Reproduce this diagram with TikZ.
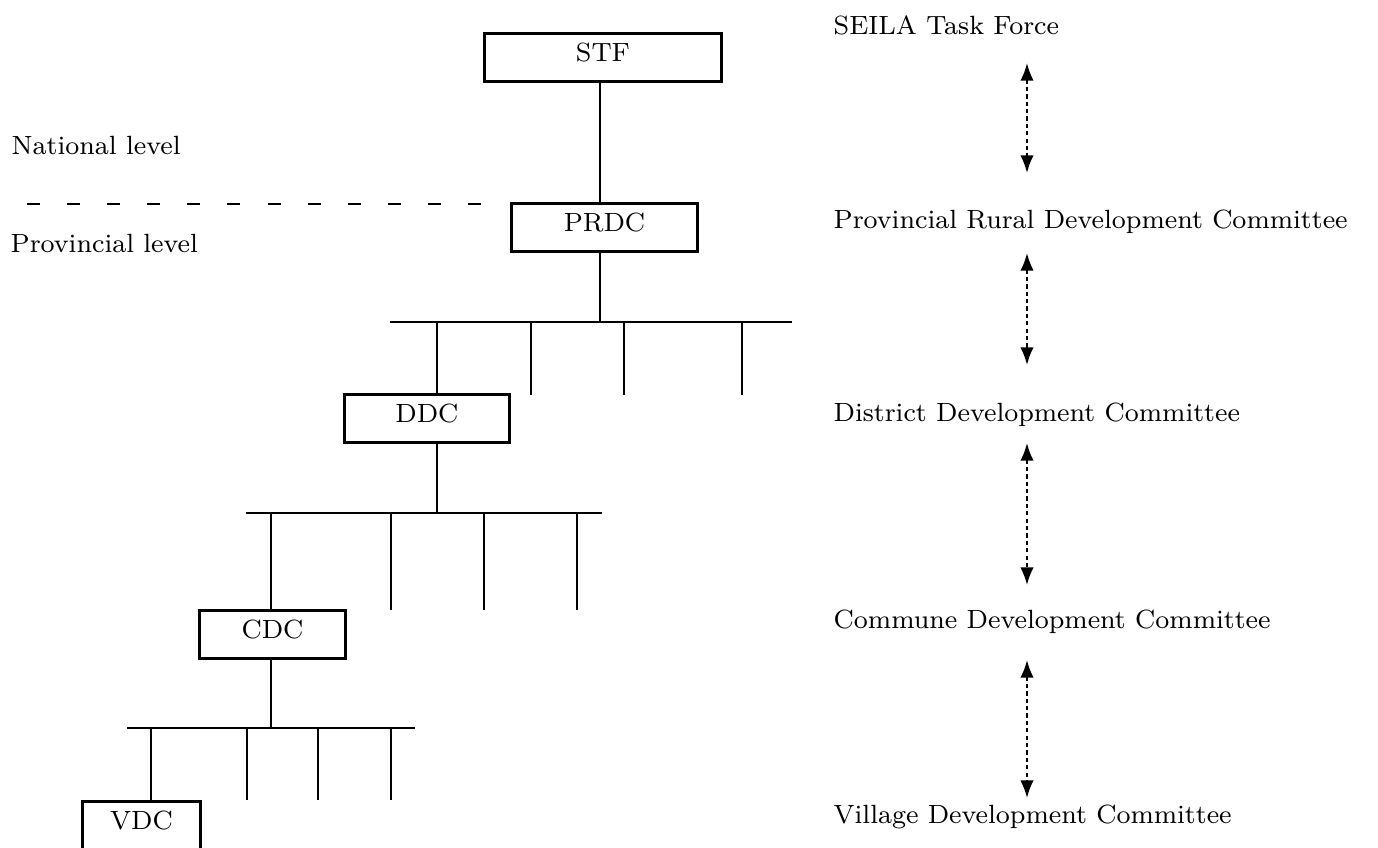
\documentclass[tikz,border=0pt]{standalone}
\usetikzlibrary{arrows.meta}
\tikzset{
    org-box/.style = {draw, rectangle, line width=0.8pt, inner xsep=0pt, inner ysep=0pt, anchor=north west, text height=0.28cm, text depth=0.2cm, font=\fontsize{7.5}{9}\selectfont},
    level-text/.style = {anchor=west, inner sep=0pt, font=\fontsize{7.5}{9}\selectfont},
    org-line/.style = {line width=0.8pt},
    level-divider/.style = {line width=0.8pt, dash pattern=on 3.7pt off 7.7pt},
    level-link/.style = {line width=0.6pt, dash pattern=on 1.2pt off 0.9pt, {Latex[length=5pt,width=3.8pt]}-{Latex[length=5pt,width=3.8pt]}},
}

\begin{document}
\begin{tikzpicture}[x=0.01cm, y=-0.01cm]
\useasboundingbox (0,0) rectangle (1378,847);

% committees
\node[org-box, minimum width=2.37cm] (stf) at (483,32) {STF};
\node[org-box, minimum width=1.86cm] (prdc) at (510,202) {PRDC};
\node[org-box, minimum width=1.65cm] (ddc) at (343,393) {DDC};
\node[org-box, minimum width=1.46cm] (cdc) at (198,609) {CDC};
\node[org-box, minimum width=1.18cm] (vdc) at (81,800) {VDC};

% levels
\node[level-text] (national) at (11,145) {National level};
\node[level-text] (provincial) at (10,243) {Provincial level};
\draw[level-divider] (27,204) -- (483,204);

% tree
\draw[org-line] (stf.south -| 600,0) -- (prdc.north -| 600,0);
\draw[org-line] (prdc.south -| 600,0) -- (600,322);
\draw[org-line] (390,322) -- (792,322);
\draw[org-line] (437,322) -- (ddc.north -| 437,0);
\foreach \x in {531,624,742} \draw[org-line] (\x,322) -- ++(0,73);

\draw[org-line] (ddc.south -| 437,0) -- (437,513);
\draw[org-line] (246,513) -- (602,513);
\draw[org-line] (271,513) -- (cdc.north -| 271,0);
\foreach \x in {391,484,577} \draw[org-line] (\x,513) -- ++(0,97);

\draw[org-line] (cdc.south -| 271,0) -- (271,728);
\draw[org-line] (127,728) -- (415,728);
\draw[org-line] (151,728) -- (vdc.north -| 151,0);
\foreach \x in {247,318,391} \draw[org-line] (\x,728) -- ++(0,72);

% names of the committees
\node[level-text] (seila) at (833,25) {SEILA Task Force};
\node[level-text] (prdc-name) at (833,222) {Provincial Rural Development Committee};
\node[level-text] (ddc-name) at (833,415) {District Development Committee};
\node[level-text] (cdc-name) at (833,622) {Commune Development Committee};
\node[level-text] (vdc-name) at (833,817) {Village Development Committee};

\foreach \i/\top/\bot in {1/63/173, 2/253/365, 3/443/585, 4/660/798} {
    \coordinate (up-\i) at (1027,\top);
    \coordinate (down-\i) at (1027,\bot);
    \draw[level-link] (up-\i) -- (down-\i);
}
\end{tikzpicture}
\end{document}
